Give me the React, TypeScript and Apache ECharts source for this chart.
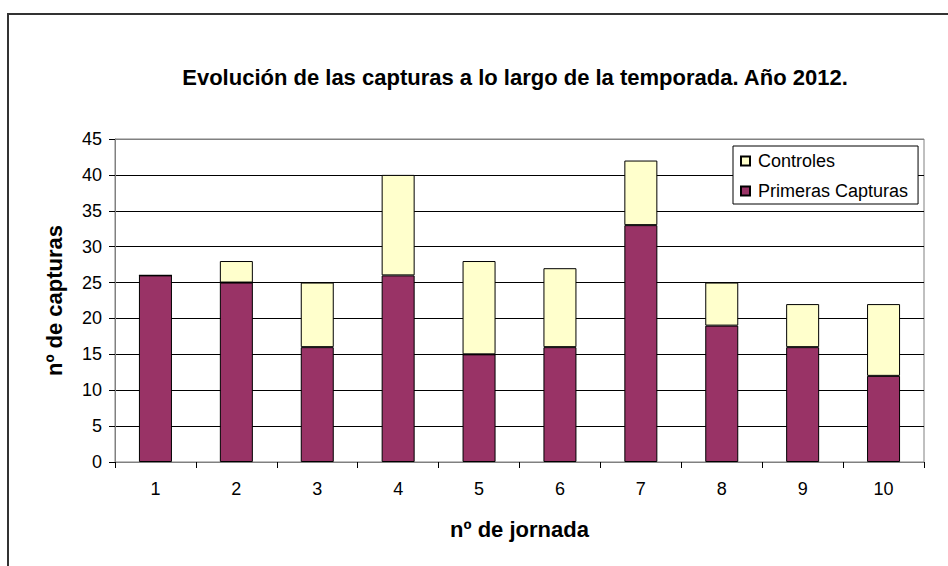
import React, { useEffect, useRef } from "react";
import * as echarts from "echarts";

const jornadas = ["1", "2", "3", "4", "5", "6", "7", "8", "9", "10"];
const primerasCapturas = [26, 25, 16, 26, 15, 16, 33, 19, 16, 12];
const controles = [0, 3, 9, 14, 13, 11, 9, 6, 6, 10];
const titleText = "Evolución de las capturas a lo largo de la temporada. Año 2012.";
const FONT = "'Liberation Sans', Arial, sans-serif";

export default function App() {
  const ref = useRef<HTMLDivElement>(null);
  useEffect(() => {
    if (!ref.current) return;
    const chart = echarts.init(ref.current, undefined, { renderer: "svg" });
    const gridColors = ["#000", "#000", "#000", "#000", "#000", "#000", "#000", "#000", "#000", "#808080"];
    chart.setOption({
      animation: false,
      backgroundColor: "#fff",
      textStyle: { fontFamily: FONT, color: "#000" },
      graphic: [
        {
          type: "rect",
          shape: { x: 8, y: 14, width: 1000, height: 700 },
          style: { fill: "none", stroke: "#333", lineWidth: 2 },
          silent: true,
        },
        {
          type: "text",
          x: 515,
          y: 77,
          style: {
            text: titleText,
            font: `bold 22px ${FONT}`,
            fill: "#000",
            textAlign: "center",
            textVerticalAlign: "middle",
          },
        },
      ],
      legend: {
        orient: "vertical",
        left: 733,
        top: 146,
        padding: [5, 10, 3, 7],
        itemWidth: 9,
        itemHeight: 9,
        itemGap: 10,
        borderColor: "#000",
        borderWidth: 1,
        backgroundColor: "#fff",
        borderRadius: 0,
        icon: "rect",
        data: ["Controles", "Primeras Capturas"],
        textStyle: { fontFamily: FONT, fontSize: 18, color: "#000", lineHeight: 20, padding: [0, 0, 0, 3] },
      },
      grid: {
        left: 115,
        top: 139,
        right: 24,
        bottom: 104,
        show: true,
        borderColor: "#808080",
        borderWidth: 1,
      },
      xAxis: {
        type: "category",
        data: jornadas,
        name: "nº de jornada",
        nameLocation: "middle",
        nameGap: 56,
        nameTextStyle: { fontFamily: FONT, fontSize: 22, fontWeight: "bold", color: "#000" },
        axisLine: { lineStyle: { color: "#808080", width: 1 } },
        axisTick: { show: true, length: 6, alignWithLabel: false, lineStyle: { color: "#000" } },
        axisLabel: { fontFamily: FONT, fontSize: 18, color: "#000", margin: 18 },
      },
      yAxis: {
        type: "value",
        min: 0,
        max: 45,
        interval: 5,
        name: "nº de capturas",
        nameLocation: "middle",
        nameGap: 50,
        nameTextStyle: { fontFamily: FONT, fontSize: 22, fontWeight: "bold", color: "#000" },
        axisLine: { show: true, lineStyle: { color: "#808080", width: 1 } },
        axisTick: { show: true, length: 6, lineStyle: { color: "#000" } },
        axisLabel: { fontFamily: FONT, fontSize: 18, color: "#000", margin: 13 },
        splitLine: { show: true, lineStyle: { color: gridColors, width: 1 } },
      },
      series: [
        {
          name: "Primeras Capturas",
          type: "bar",
          stack: "total",
          data: primerasCapturas,
          barWidth: 33,
          itemStyle: { color: "#993366", borderColor: "#000", borderWidth: 1 },
        },
        {
          name: "Controles",
          type: "bar",
          stack: "total",
          data: controles,
          barWidth: 33,
          itemStyle: { color: "#FFFFCC", borderColor: "#000", borderWidth: 1 },
        },
      ],
    });
    return () => chart.dispose();
  }, []);
  return (
    <div
      ref={ref}
      style={{ position: "fixed", left: 0, top: 0, width: 948, height: 566 }}
    />
  );
}
